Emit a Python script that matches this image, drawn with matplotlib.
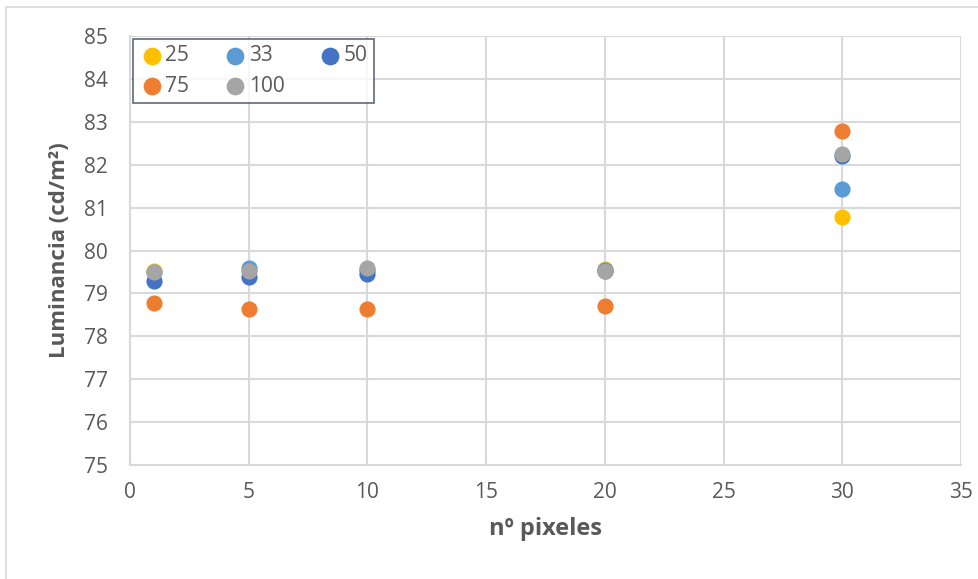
import matplotlib.pyplot as plt
from matplotlib.patches import Rectangle

x_vals = [1, 5, 10, 20, 30]
series_names = ['25', '33', '50', '75', '100']
s25 = [79.52, 79.55, 79.55, 79.56, 80.77]
s33 = [79.50, 79.59, 79.55, 79.54, 81.44]
s50 = [79.29, 79.38, 79.45, 79.53, 82.20]
s75 = [78.78, 78.64, 78.64, 78.71, 82.79]
s100 = [79.51, 79.52, 79.59, 79.52, 82.25]
colors = ['#FFC000', '#5B9BD5', '#4472C4', '#ED7D31', '#A5A5A5']

plt.rcParams['font.family'] = ['Open Sans', 'DejaVu Sans']

fig = plt.figure(figsize=(9.79, 5.79), dpi=100)
ax = fig.add_axes([0.1328, 0.1969, 0.8488, 0.7409])

# outer chart border
fig.patches.append(Rectangle((0.006, -0.01), 1.0, 0.998, transform=fig.transFigure,
                             fill=False, edgecolor='#d9d9d9', linewidth=1.2))

handles = {}
for name, vals, c in zip(series_names, [s25, s33, s50, s75, s100], colors):
    handles[name] = ax.scatter(x_vals, vals, s=135, color=c, label=name, zorder=3, linewidths=0)

ax.set_xlim(0, 35)
ax.set_ylim(75, 85)
ax.set_xticks(range(0, 36, 5))
ax.set_yticks(range(75, 86, 1))
ax.grid(True, color='#d9d9d9', linewidth=1.5, zorder=0)
ax.set_axisbelow(True)
for sp in ['top', 'right']:
    ax.spines[sp].set_visible(False)
for sp in ['left', 'bottom']:
    ax.spines[sp].set_color('#d9d9d9')
    ax.spines[sp].set_linewidth(1.5)
ax.tick_params(axis='y', length=0, labelsize=15, colors='#595959', pad=16)
ax.tick_params(axis='x', length=0, labelsize=15, colors='#595959', pad=12)

ax.set_xlabel('nº pixeles', fontsize=17, fontweight='bold', color='#595959', labelpad=10)
ax.set_ylabel('Luminancia (cd/m²)', fontsize=16, fontweight='bold', color='#595959', labelpad=10)

# row-major order like the original legend
order = ['25', '75', '33', '100', '50']
leg = ax.legend([handles[k] for k in order], order, loc='upper left', ncol=3, fontsize=15,
                frameon=True, fancybox=False, handletextpad=0.05, columnspacing=1.6,
                borderpad=0.3, labelspacing=0.45, handlelength=1.2, borderaxespad=0,
                bbox_to_anchor=(0.0036, 0.993), markerscale=1.1)
leg.get_frame().set_edgecolor('#44546a')
leg.get_frame().set_linewidth(1.3)
for t in leg.get_texts():
    t.set_color('#595959')

fig.savefig('out.png', dpi=100)
